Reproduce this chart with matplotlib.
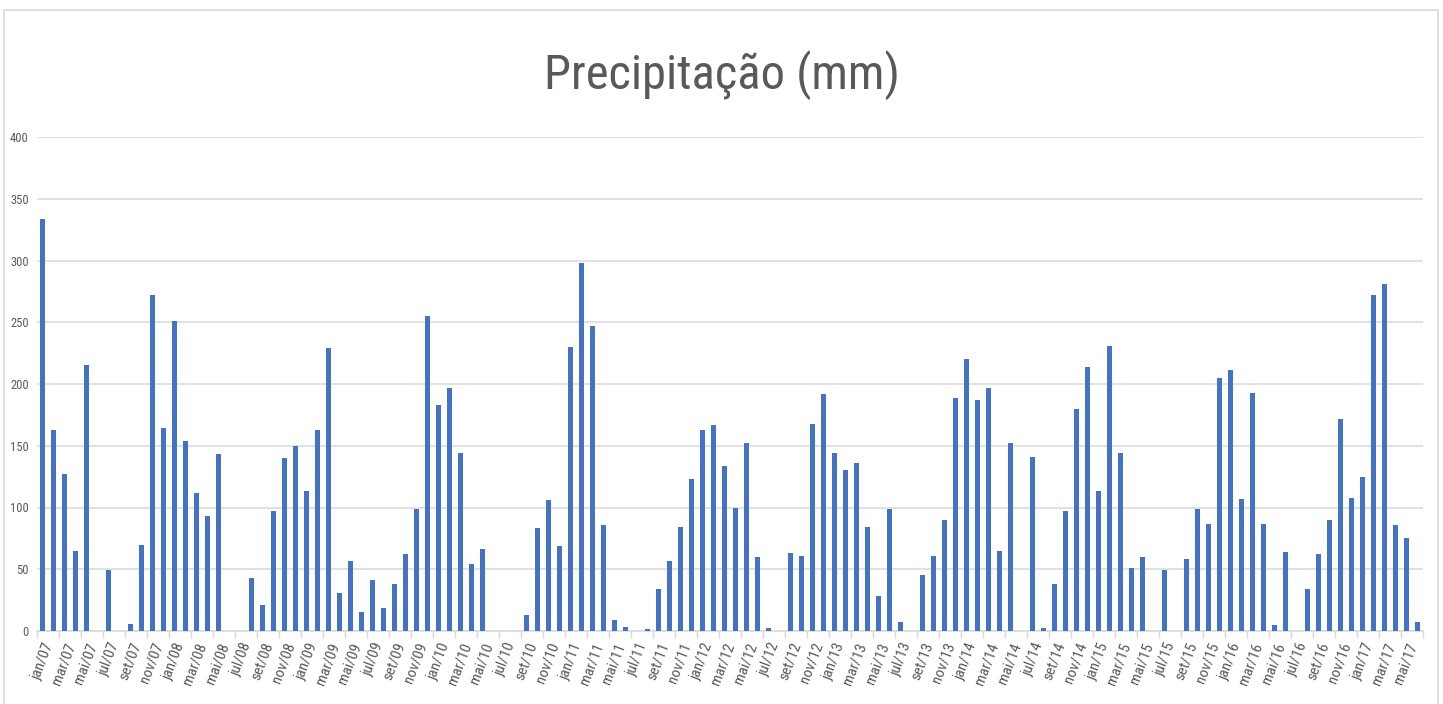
import matplotlib
matplotlib.use("Agg")
import matplotlib.pyplot as plt
from matplotlib.patches import Rectangle
import numpy as np

plt.rcParams["font.family"] = ["Roboto Condensed", "Roboto", "DejaVu Sans"]

meses = ["jan", "fev", "mar", "abr", "mai", "jun",
         "jul", "ago", "set", "out", "nov", "dez"]
anos = list(range(7, 18))

# jan/07 .. jun/17, mm
precip = [
    334, 163, 127, 65, 215, 0, 49, 0, 6, 70, 272, 164,        # 2007
    251, 154, 112, 93, 143, 0, 0, 43, 21, 97, 140, 150,       # 2008
    113, 163, 229, 31, 57, 15, 41, 19, 38, 62, 99, 255,       # 2009
    183, 197, 144, 54, 66, 0, 0, 0, 13, 83, 106, 69,          # 2010
    230, 298, 247, 86, 9, 3, 0, 2, 34, 57, 84, 123,           # 2011
    163, 167, 134, 100, 152, 60, 2.5, 0, 63, 61, 168, 192,    # 2012
    144, 130, 136, 84, 28, 99, 7, 0, 45, 61, 90, 189,         # 2013
    220, 187, 197, 65, 152, 0, 141, 2.5, 38, 97, 180, 214,    # 2014
    113, 231, 144, 51, 60, 0, 49, 0, 58, 99, 87, 205,         # 2015
    211, 107, 193, 87, 4.5, 64, 0, 34, 62, 90, 172, 108,      # 2016
    125, 272, 281, 86, 75, 7,                                 # 2017
]

rotulos = [f"{m}/{a:02d}" for a in anos for m in meses][:len(precip)]

fig = plt.figure(figsize=(14.43, 7.04), dpi=100)
fig.patches.append(Rectangle((4 / 1443, -0.01), 1434 / 1443, 1 - 10 / 704 + 0.01,
                             transform=fig.transFigure, fill=False,
                             edgecolor="#d9d9d9", linewidth=1.2))

ax = fig.add_axes([37 / 1443, 1 - 631 / 704, 1386 / 1443, (631 - 137) / 704])

x = np.arange(len(precip))
ax.bar(x, precip, width=0.38, color="#4472c4", zorder=3)

ax.set_xlim(-0.5, len(precip) - 0.5)
ax.set_ylim(0, 400)
ax.set_yticks(range(0, 401, 50))
ax.yaxis.grid(True, color="#d9d9d9", linewidth=1.1, zorder=0)
ax.tick_params(axis="y", length=0, labelsize=9, labelcolor="#595959", pad=6)

ax.set_xticks(x[::2])
ax.set_xticklabels(rotulos[::2], rotation=69, ha="right", rotation_mode="anchor",
                   fontsize=11, color="#595959")
ax.set_xticks(np.arange(-0.5, len(precip), 2), minor=True)
ax.tick_params(axis="x", which="major", length=0, pad=7)
ax.tick_params(axis="x", which="minor", length=5, color="#d9d9d9", width=1)

for s in ["top", "right", "left"]:
    ax.spines[s].set_visible(False)
ax.spines["bottom"].set_color("#d9d9d9")
ax.spines["bottom"].set_linewidth(1.1)

fig.text(0.5, 1 - 75 / 704, "Precipitação (mm)", ha="center", va="center",
         fontsize=35, color="#595959")

fig.savefig("out.png", dpi=100)
